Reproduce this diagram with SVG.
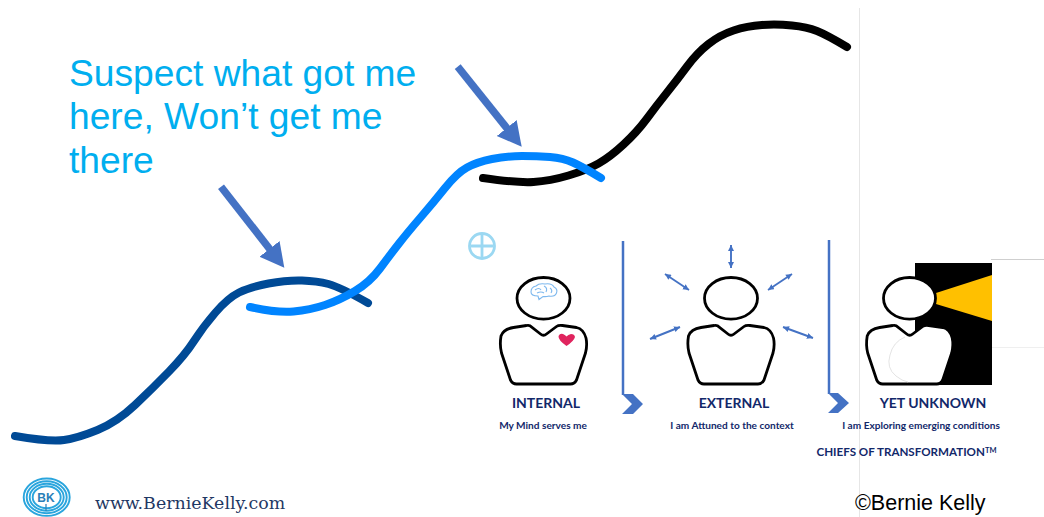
<svg xmlns="http://www.w3.org/2000/svg" xmlns:xlink="http://www.w3.org/1999/xlink" width="1044" height="517" viewBox="0 0 1044 517">
<style>
.curve{fill:none;stroke-width:8;stroke-linecap:round;stroke-linejoin:round}
.big{font-family:"Liberation Sans",Arial,sans-serif;font-size:37.2px;fill:#00aeef}
.head{fill:#fff;stroke:#000;stroke-width:2.8}
.body{fill:#fff;stroke:#000;stroke-width:2.8;stroke-linejoin:round}
.title{font-family:Lato,"Open Sans",sans-serif;font-weight:700;font-size:14px;fill:#12286a;text-anchor:middle}
.sub{font-family:Lato,"Open Sans",sans-serif;font-weight:700;font-size:10.1px;fill:#12286a;text-anchor:middle}
.thick{fill:none;stroke:#4472c4;stroke-width:7.5;marker-end:url(#bigHead)}
.small{fill:none;stroke:#4472c4;stroke-width:1.9;marker-start:url(#smallHeadS);marker-end:url(#smallHead)}
.rule{fill:none;stroke:#4472c4;stroke-width:2.5}
.chev{fill:#4472c4}
.ring{fill:none;stroke:#2aa5dd;stroke-width:1.9}
.hair{fill:none;stroke:#e6e6e6;stroke-width:1}
</style>
<defs>
<marker id="bigHead" markerUnits="userSpaceOnUse" markerWidth="26" markerHeight="28" refX="4" refY="12.700" orient="auto"><path d="M0,0L24,12.700L0,25.400Z" fill="#4472c4"/></marker>
<marker id="smallHead" markerUnits="userSpaceOnUse" markerWidth="7" markerHeight="7" refX="6" refY="3" orient="auto"><path d="M0,0L6,3L0,6Z" fill="#4472c4"/></marker>
<marker id="smallHeadS" markerUnits="userSpaceOnUse" markerWidth="7" markerHeight="7" refX="0" refY="3" orient="auto"><path d="M6,0L0,3L6,6Z" fill="#4472c4"/></marker>
<path id="bodyShape" d="M-13.700,27.700 L-3,36 Q0,38.500 3,36 L13,28.500 Q15,27 19,27.500 L33,29.500 Q40,31 42.500,40 Q44,47 42,55 L33,82 Q31,86 27,86 L-27,86 Q-31,86 -33,82 L-42,55 Q-44,47 -42.500,38 Q-40,31 -30,29.500 L-17,27.500 Q-15,27 -13.700,27.700Z"/>
</defs>

<g id="connectors">
<path id="curve-dark" class="curve" stroke="#004a96" d="M15,436 Q50,442 64,440 Q78,438 97.500,430 Q117,422 135,405 Q153,388 169,371.500 Q185,355 194,341 Q203,327 215.500,312.500 Q228,298 239,292.500 Q250,287 268.500,283.500 Q287,280 302,280.500 Q317,281 328.500,284 Q340,287 368,303"/>
<path id="curve-black" class="curve" stroke="#000" d="M483,178 Q517,183 533.500,182 Q550,181 568.500,175.500 Q587,170 598.500,163.500 Q610,157 623.500,144.500 Q637,132 647,118.500 Q657,105 667,92.500 Q677,80 687,66.500 Q697,53 708.500,44 Q720,35 733.500,30.500 Q747,26 762,25 Q777,24 792,25.500 Q807,27 817,31 Q827,35 847,47"/>
<path id="curve-light" class="curve" stroke="#0084ff" d="M250,307 Q277,313 293.500,311.500 Q310,310 325,305 Q340,300 355,291 Q370,282 380,268.500 Q390,255 399,243.500 Q408,232 420.500,217.500 Q433,203 445,188 Q457,173 467,167.500 Q477,162 492,159 Q507,156 522,156 Q537,156 550,157 Q563,158 573,162.500 Q583,167 601,178"/>
<path class="thick" d="M457.700,66.700L509.200,131.100"/>
<path class="thick" d="M221,186.700L272,252"/>
<path class="small" d="M731,245V268"/>
<path class="small" d="M665,274L689,290"/>
<path class="small" d="M650,339L680,327"/>
<path class="small" d="M792,274L768,290"/>
<path class="small" d="M783,327L813,338"/>
<path class="rule" d="M623,241V395"/>
<path class="rule" d="M829,240V394"/>
<path class="chev" d="M622,394H633L643,404L633,414H622L632,404Z"/>
<path class="chev" d="M828,393H838L849,403L838,413H828L838,403Z"/>
</g>

<g id="frame-lines">
<path class="hair" d="M859.500,8V517"/>
<path d="M991,259.500H1044" fill="none" stroke="#cfcfcf"/>
<path d="M991,347.500H1044" fill="none" stroke="#efefef"/>
</g>

<g id="caption">
<text class="big"><tspan x="69" y="86">Suspect what got me</tspan><tspan x="69" y="129">here, Won’t get me</tspan><tspan x="69" y="173">there</tspan></text>
</g>

<g id="plus-icon" fill="none" stroke="#9bd8f2" stroke-width="2.800">
<circle cx="482" cy="246" r="12.500"/>
<path d="M471,246H493M482,235V257"/>
</g>

<g id="node-internal">
<g transform="translate(543.500,298)"><use xlink:href="#bodyShape" class="body"/></g>
<ellipse class="head" cx="543.500" cy="298.300" rx="26.500" ry="20.800"/>
<g fill="none" stroke="#7db8ee" stroke-width="1.100">
<path d="M531,292Q531,287 536,286Q539,283 545,284Q552,283 554,287Q558,289 556.500,293Q555,297 549,296Q546,297 543,296.500L539,299.500L538,296Q531,296 531,292Z"/>
<path d="M535,290Q539,287 541,290M544,286Q548,288 546,292M550,288Q553,290 551,293M537,293Q541,291 544,293"/>
</g>
<path d="M566.500,346Q558,340 558.500,336Q560,333 563,334Q565.500,335 566.500,336.500Q568,334.500 571,334Q574.500,334 575,337Q574,341 566.500,346Z" fill="#e0245e"/>
<text class="title" x="546" y="407.500">INTERNAL</text>
<text class="sub" x="543" y="429">My Mind serves me</text>
</g>

<g id="node-external">
<g transform="translate(731,298)"><use xlink:href="#bodyShape" class="body"/></g>
<ellipse class="head" cx="731" cy="298.300" rx="26.500" ry="20.800"/>
<text class="title" x="734" y="407.500">EXTERNAL</text>
<text class="sub" x="732" y="429">I am Attuned to the context</text>
</g>

<g id="node-unknown">
<rect x="915" y="263" width="77" height="122" fill="#000"/>
<path d="M936,293L992,275V321L936,304Z" fill="#ffc000"/>
<g transform="translate(909.700,298)"><use xlink:href="#bodyShape" class="body"/></g>
<ellipse class="head" cx="909.500" cy="298.300" rx="26" ry="20.800"/>
<path d="M905,337Q893,342 890,355Q886,368 896,376Q902,381 908,382" fill="none" stroke="#dcdcdc" stroke-width="0.800"/>
<text class="title" x="933" y="407.500">YET UNKNOWN</text>
<text class="sub" x="921" y="429">I am Exploring emerging conditions</text>
</g>

<g id="tagline">
<text x="816.500" y="455.700" font-family="Lato,'Open Sans',sans-serif" font-weight="700" font-size="11.600" fill="#12286a">CHIEFS OF TRANSFORMATION<tspan font-size="7.500" dy="-3">TM</tspan></text>
</g>

<g id="logo">
<ellipse class="ring" cx="46.700" cy="497.200" rx="23" ry="18.700"/>
<ellipse class="ring" cx="46.700" cy="497.200" rx="20" ry="16"/>
<ellipse class="ring" cx="46.700" cy="497.200" rx="17" ry="13.500"/>
<ellipse class="ring" cx="46.700" cy="497.200" rx="14" ry="11"/>
<path d="M46,504V511" stroke="#2a7fb8" stroke-width="1.200" fill="none"/>
<text x="46" y="502" font-family="'Liberation Sans',sans-serif" font-size="12" font-weight="700" fill="#2a7fb8" text-anchor="middle">BK</text>
</g>

<g id="footer">
<text x="95" y="509" font-family="'DejaVu Serif',serif" font-size="17.400" fill="#1f3864">www.BernieKelly.com</text>
<text x="855" y="510" font-family="'Liberation Sans',Arial,sans-serif" font-size="21.500" fill="#000">©Bernie Kelly</text>
</g>
</svg>
